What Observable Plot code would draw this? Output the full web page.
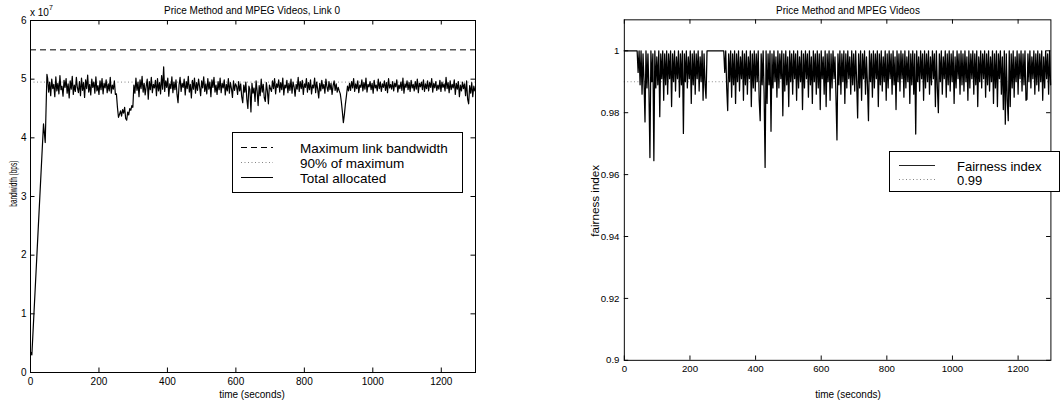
<!DOCTYPE html>
<html>
<head>
<meta charset="utf-8">
<script src="https://cdn.jsdelivr.net/npm/d3@7"></script>
<script src="https://cdn.jsdelivr.net/npm/@observablehq/plot@0.6"></script>
<style>
  html, body { margin: 0; padding: 0; background: #fff; }
  #wrap { position: relative; width: 1063px; height: 400px; overflow: hidden; background: #fff; }
  #wrap > div, #wrap > svg { position: absolute; top: 0; }
  #left { left: 0; }
  #right { left: 560px; }
  #overlay { left: 0; top: 0; pointer-events: none; }
</style>
</head>
<body>
<div id="wrap">
  <div id="left"></div>
  <div id="right"></div>
</div>
<script>
// ---------- data (bandwidth in units of 1e7 bps) ----------
const bwRampTime = [0, 4, 38, 43, 48];
const bwRampVal  = [0.35, 0.30, 4.24, 3.92, 5.08];
const bwStart = 50, bwStep = 3;   // sampling grid of the rest of the trace (seconds)
const bwVal = [
  // 50 - 248
  5.02, 4.78, 4.95, 4.72, 5.00, 4.84, 4.91, 4.70, 5.04, 4.80,
  4.93, 4.75, 5.06, 4.82, 4.88, 4.71, 4.98, 4.86, 5.01, 4.76,
  4.92, 4.68, 4.97, 4.83, 5.05, 4.74, 4.90, 4.79, 5.03, 4.85,
  4.77, 4.96, 4.72, 5.02, 4.81, 4.94, 4.69, 4.99, 4.84, 5.07,
  4.78, 4.91, 4.73, 5.00, 4.86, 4.95, 4.76, 5.04, 4.80, 4.89,
  4.74, 4.97, 4.82, 5.01, 4.75, 4.93, 4.85, 4.99, 4.77, 4.92,
  4.80, 5.03, 4.76, 4.90, 4.83, 4.97, 4.74,
  // 251 - 299 (dip)
  4.75, 4.52, 4.35, 4.40, 4.46, 4.37, 4.48, 4.42, 4.52, 4.33,
  4.30, 4.44, 4.39, 4.50, 4.47, 4.55, 4.52,
  // 302 - 599
  4.90, 4.76, 5.02, 4.81, 4.95, 4.70, 4.99, 4.84, 5.05, 4.78,
  4.93, 4.73, 4.88, 5.00, 4.66, 4.96, 4.82, 5.03, 4.77, 4.91,
  4.85, 4.98, 4.72, 5.01, 4.80, 4.94, 4.75, 5.06, 4.83, 5.21,
  4.79, 4.97, 4.86, 5.02, 4.71, 4.92, 4.84, 5.04, 4.77, 4.95,
  4.82, 4.99, 4.74, 4.60, 4.90, 5.03, 4.79, 4.93, 4.86, 5.00,
  4.73, 4.96, 4.84, 5.05, 4.78, 4.91, 4.68, 4.98, 4.83, 5.02,
  4.76, 4.94, 4.81, 5.00, 4.87, 4.72, 4.97, 4.85, 5.04, 4.79,
  4.92, 4.75, 5.01, 4.83, 4.95, 4.70, 4.99, 4.86, 5.03, 4.78,
  4.90, 4.74, 4.96, 4.82, 5.02, 4.77, 4.93, 4.85, 4.99, 4.73,
  4.91, 4.80, 5.01, 4.76, 4.94, 4.84, 4.69, 4.97, 4.81, 4.92,
  // 602 - 701
  4.88, 4.74, 4.96, 4.80, 4.92, 4.70, 4.60, 4.90, 4.78, 4.95,
  4.66, 4.50, 4.88, 4.82, 4.44, 4.93, 4.76, 4.85, 4.62, 4.97,
  4.80, 4.55, 4.89, 4.72, 5.00, 4.78, 4.91, 4.68, 4.62, 4.94,
  4.80, 4.58, 4.90, 4.84,
  // 704 - 902
  4.79, 4.97, 4.84, 5.01, 4.75, 4.92, 4.86, 4.99, 4.78, 4.94,
  4.82, 5.02, 4.73, 4.90, 4.85, 4.98, 4.77, 4.93, 4.81, 5.00,
  4.76, 4.95, 4.87, 4.71, 4.91, 4.83, 5.03, 4.79, 4.96, 4.84,
  4.98, 4.74, 4.92, 4.86, 5.01, 4.78, 4.94, 4.82, 4.99, 4.75,
  4.90, 4.85, 5.02, 4.77, 4.95, 4.83, 4.68, 4.93, 4.80, 4.98,
  4.84, 4.91, 4.76, 5.00, 4.87, 4.79, 4.96, 4.82, 4.93, 4.74,
  4.89, 4.97, 4.81, 4.92, 4.78, 4.86, 4.80,
  // 905 - 932 (dip)
  4.75, 4.62, 4.45, 4.26, 4.40, 4.58, 4.72, 4.88, 4.80, 4.93,
  // 935 - 1298
  4.81, 4.96, 4.85, 5.01, 4.79, 4.92, 4.84, 4.97, 4.77, 4.90,
  4.86, 4.99, 4.80, 4.94, 4.83, 5.02, 4.78, 4.91, 4.87, 4.96,
  4.82, 4.93, 4.76, 4.98, 4.85, 4.90, 4.80, 5.00, 4.84, 4.95,
  4.79, 4.92, 4.86, 4.97, 4.81, 4.94, 4.77, 5.01, 4.85, 4.91,
  4.83, 4.96, 4.80, 4.93, 4.87, 4.99, 4.78, 4.90, 4.84, 4.95,
  4.81, 5.02, 4.76, 4.92, 4.86, 4.97, 4.82, 4.94, 4.79, 4.98,
  4.85, 4.91, 4.80, 4.96, 4.83, 5.00, 4.77, 4.93, 4.87, 4.95,
  4.82, 4.99, 4.79, 4.92, 4.84, 4.97, 4.80, 4.94, 4.86, 5.01,
  4.78, 4.93, 4.85, 4.96, 4.81, 4.90, 4.83, 4.98, 4.79, 4.95,
  4.86, 4.92, 4.80, 5.03, 4.84, 4.94, 4.77, 4.97, 4.82, 4.91,
  4.85, 4.99, 4.74, 4.93, 4.83, 4.96, 4.70, 4.90, 4.80, 4.95,
  4.84, 4.92, 4.72, 4.97, 4.66, 4.58, 4.89, 4.76, 4.94, 4.70,
  4.88, 4.80
];
const maxBandwidth = 5.5;
const ninetyPercent = 4.95;

const fairStart = 0, fairStep = 3;
const fairVal = [
  // 0 - 39
  1, 1, 1, 1, 1, 1, 1, 1, 1, 1, 1, 1, 1, 1,
  // 42 - 249
  0.993, 1.000, 0.989, 1.000, 0.986, 0.999, 0.990, 0.977, 1.000, 0.988,
  0.999, 0.987, 0.9655, 1.000, 0.990, 0.999, 0.9645, 1.000, 0.988, 0.998,
  0.989, 1.000, 0.9787, 0.999, 0.991, 1.000, 0.984, 0.999, 0.989, 1.000,
  0.986, 0.999, 0.991, 1.000, 0.982, 0.999, 0.990, 1.000, 0.987, 0.998,
  0.991, 1.000, 0.985, 0.999, 0.989, 1.000, 0.9733, 0.999, 0.990, 1.000,
  0.988, 0.998, 0.991, 1.000, 0.983, 0.999, 0.989, 1.000, 0.986, 0.999,
  0.991, 1.000, 0.987, 0.998, 0.990, 1.000, 0.984, 0.999, 0.989, 0.9847,
  // 252 - 303
  1, 1, 1, 1, 1, 1, 1, 1, 1, 1, 1, 1, 1, 1, 1, 1, 1, 1,
  // 306 - 1299
  0.993, 1.000, 0.988, 0.9807, 0.999, 0.990, 1.000, 0.985, 0.999, 0.989,
  1.000, 0.983, 0.999, 0.990, 1.000, 0.987, 0.998, 0.991, 1.000, 0.984,
  0.999, 0.989, 1.000, 0.986, 0.998, 0.991, 1.000, 0.982, 0.999, 0.988,
  1.000, 0.987, 0.999, 0.990, 1.000, 0.984, 0.9774, 0.999, 0.989, 1.000,
  0.986, 0.9623, 1.000, 0.983, 0.999, 0.989, 1.000, 0.974, 0.999, 0.988,
  1.000, 0.990, 0.998, 0.985, 1.000, 0.988, 0.999, 0.991, 1.000, 0.979,
  0.999, 0.987, 1.000, 0.989, 0.998, 0.982, 1.000, 0.990, 0.999, 0.986,
  1.000, 0.991, 0.999, 0.984, 1.000, 0.988, 0.998, 0.990, 1.000, 0.981,
  0.999, 0.988, 1.000, 0.991, 0.999, 0.985, 1.000, 0.989, 0.998, 0.983,
  1.000, 0.990, 0.999, 0.986, 1.000, 0.988, 0.999, 0.981, 1.000, 0.991,
  0.998, 0.986, 1.000, 0.982, 0.999, 0.990, 1.000, 0.984, 0.999, 0.988,
  1.000, 0.991, 0.998, 0.985, 0.9712, 0.999, 0.989, 1.000, 0.986, 0.999,
  0.990, 1.000, 0.983, 0.999, 0.988, 1.000, 0.991, 0.998, 0.986, 1.000,
  0.989, 0.999, 0.987, 1.000, 0.990, 0.9783, 0.999, 0.988, 1.000, 0.984,
  0.999, 0.991, 1.000, 0.986, 0.998, 0.989, 0.9774, 1.000, 0.990, 0.999,
  0.985, 1.000, 0.988, 0.999, 0.991, 1.000, 0.982, 0.999, 0.989, 1.000,
  0.987, 0.998, 0.990, 1.000, 0.984, 0.999, 0.988, 1.000, 0.991, 0.999,
  0.986, 1.000, 0.989, 0.998, 0.981, 1.000, 0.990, 0.999, 0.987, 1.000,
  0.991, 0.999, 0.985, 1.000, 0.988, 0.998, 0.990, 1.000, 0.983, 0.999,
  0.989, 1.000, 0.986, 0.999, 0.9731, 1.000, 0.990, 0.998, 0.987, 1.000,
  0.991, 0.999, 0.984, 1.000, 0.988, 0.999, 0.990, 1.000, 0.986, 0.998,
  0.989, 1.000, 0.991, 0.999, 0.982, 1.000, 0.988, 0.980, 0.999, 0.990,
  1.000, 0.986, 0.998, 0.991, 1.000, 0.985, 0.999, 0.989, 1.000, 0.987,
  0.999, 0.990, 1.000, 0.983, 0.998, 0.988, 1.000, 0.991, 0.999, 0.986,
  1.000, 0.989, 0.999, 0.987, 1.000, 0.990, 0.998, 0.984, 1.000, 0.988,
  0.999, 0.991, 1.000, 0.986, 0.999, 0.989, 1.000, 0.982, 0.998, 0.990,
  1.000, 0.988, 0.999, 0.991, 1.000, 0.985, 0.999, 0.989, 1.000, 0.987,
  0.998, 0.990, 1.000, 0.983, 0.999, 0.988, 1.000, 0.982, 0.999, 0.991,
  1.000, 0.986, 0.998, 0.981, 1.000, 0.9763, 0.999, 0.984, 0.9774, 1.000,
  0.982, 0.999, 0.988, 1.000, 0.985, 0.998, 0.990, 1.000, 0.986, 0.999,
  0.991, 1.000, 0.987, 0.999, 0.989, 1.000, 0.984, 0.9843, 0.999, 0.990,
  1.000, 0.988, 0.998, 0.991, 1.000, 0.986, 0.999, 0.989, 1.000, 0.987,
  0.999, 0.990, 1.000, 0.984, 0.998, 0.988, 1.000, 0.991, 0.999, 0.986,
  1.000, 0.989
];
const fairRef = 0.99;

const xTicks = [0, 200, 400, 600, 800, 1000, 1200];
const bwTicks = [0, 1, 2, 3, 4, 5, 6];
const fairTicks = [0.9, 0.92, 0.94, 0.96, 0.98, 1];

const leftTitle = "Price Method and MPEG Videos, Link 0";
const rightTitle = "Price Method and MPEG Videos";
const xLabel = "time (seconds)";
const bwLabel = "bandwidth (bps)";
const fairLabel = "fairness index";
const bwLegend = ["Maximum link bandwidth", "90% of maximum", "Total allocated"];
const fairLegend = ["Fairness index", "0.99"];

// ---------- tables ----------
const bwData = bwRampTime.map((t, i) => ({t, v: bwRampVal[i]}))
  .concat(bwVal.map((v, i) => ({t: bwStart + i * bwStep, v})));
const fairData = fairVal.map((v, i) => ({t: fairStart + i * fairStep, v}));

const FONT = "'Liberation Sans', Arial, Helvetica, sans-serif";
const baseStyle = {fontFamily: FONT, fontSize: "10px", color: "black", background: "transparent", overflow: "visible"};
const intFmt = d => String(d);
const TICK = 4.5;

// MATLAB-style inward ticks on all four sides
function boxTicks(xt, yt, fw, fh) {
  return [
    Plot.tickX(xt, {x: d => d, stroke: "black", insetTop: fh - TICK}),
    Plot.tickX(xt, {x: d => d, stroke: "black", insetBottom: fh - TICK}),
    Plot.tickY(yt, {y: d => d, stroke: "black", insetRight: fw - TICK}),
    Plot.tickY(yt, {y: d => d, stroke: "black", insetLeft: fw - TICK})
  ];
}

const L = {width: 520, height: 400, ml: 30, mr: 45, mt: 20, mb: 28};
const left = Plot.plot({
  width: L.width, height: L.height,
  marginLeft: L.ml, marginRight: L.mr, marginTop: L.mt, marginBottom: L.mb,
  style: baseStyle,
  x: {domain: [0, 1300]},
  y: {domain: [0, 6]},
  marks: [
    Plot.ruleY([maxBandwidth], {stroke: "black", strokeWidth: 1, strokeDasharray: "6,4"}),
    Plot.ruleY([ninetyPercent], {stroke: "#777", strokeWidth: 0.9, strokeDasharray: "1,2.5"}),
    Plot.line(bwData, {x: "t", y: "v", stroke: "black", strokeWidth: 1.2}),
    Plot.frame({stroke: "black", strokeWidth: 1}),
    ...boxTicks(xTicks, bwTicks, L.width - L.ml - L.mr, L.height - L.mt - L.mb),
    Plot.axisX({ticks: xTicks, tickSize: 0, tickPadding: 5, tickFormat: intFmt, label: null}),
    Plot.axisY({ticks: bwTicks, tickSize: 0, tickPadding: 4, tickFormat: intFmt, label: null})
  ]
});
document.getElementById("left").appendChild(left);

const R = {width: 520, height: 400, ml: 66, mr: 13, mt: 20, mb: 28};
const right = Plot.plot({
  width: R.width, height: R.height,
  marginLeft: R.ml, marginRight: R.mr, marginTop: R.mt, marginBottom: R.mb,
  style: baseStyle,
  x: {domain: [0, 1300]},
  y: {domain: [0.9, 1.01]},
  marks: [
    Plot.ruleY([fairRef], {stroke: "#777", strokeWidth: 0.9, strokeDasharray: "1,2.5"}),
    Plot.line(fairData, {x: "t", y: "v", stroke: "black", strokeWidth: 1.3}),
    Plot.frame({stroke: "black", strokeWidth: 1}),
    ...boxTicks(xTicks, fairTicks, R.width - R.ml - R.mr, R.height - R.mt - R.mb),
    Plot.axisX({ticks: xTicks, tickSize: 0, tickPadding: 5, tickFormat: intFmt, label: null}),
    Plot.axisY({ticks: fairTicks, tickSize: 0, tickPadding: 5, tickFormat: d => String(+d.toFixed(2)), label: null})
  ]
});
document.getElementById("right").appendChild(right);

// ---------- titles, labels, legends ----------
const ov = d3.select("#wrap").append("svg").attr("id", "overlay")
  .attr("width", 1063).attr("height", 400)
  .style("font-family", FONT).style("fill", "black");

function txt(x, y, s, size, anchor = "middle") {
  return ov.append("text").attr("x", x).attr("y", y).attr("font-size", size)
    .attr("text-anchor", anchor).text(s);
}
txt(252, 13.5, leftTitle, 10);
txt(848, 13.5, rightTitle, 10);
txt(252, 397.5, xLabel, 10);
txt(848, 397.5, xLabel, 10);
// x 10^7 exponent
const ex = ov.append("text").attr("x", 30).attr("y", 16).attr("font-size", 10);
ex.append("tspan").text("x 10");
ex.append("tspan").attr("font-size", 7).attr("dy", -6).text("7");
// y labels
ov.append("text").attr("transform", "translate(17,183.7) rotate(-90)")
  .attr("text-anchor", "middle").attr("font-size", 10)
  .attr("textLength", 46).attr("lengthAdjust", "spacingAndGlyphs").text(bwLabel);
ov.append("text").attr("transform", "translate(598.5,200.8) rotate(-90)")
  .attr("text-anchor", "middle").attr("font-size", 10.5)
  .attr("textLength", 72).attr("lengthAdjust", "spacingAndGlyphs").text(fairLabel);

// left legend
ov.append("rect").attr("x", 232.5).attr("y", 132.5).attr("width", 230).attr("height", 60)
  .attr("fill", "white").attr("stroke", "black").attr("stroke-width", 1);
const lsY = [147.5, 162.5, 177.5];
const lsDash = ["6,4", "1,2.5", null];
const lsCol = ["black", "#777", "black"];
lsY.forEach((y, i) => {
  const l = ov.append("line").attr("x1", 241).attr("x2", 273).attr("y1", y).attr("y2", y)
    .attr("stroke", lsCol[i]).attr("stroke-width", i === 1 ? 0.9 : 1);
  if (lsDash[i]) l.attr("stroke-dasharray", lsDash[i]);
  txt(300, y + 5, bwLegend[i], 13.5, "start");
});

// right legend
ov.append("rect").attr("x", 889.5).attr("y", 151.5).attr("width", 170).attr("height", 40)
  .attr("fill", "white").attr("stroke", "black").attr("stroke-width", 1);
const rsY = [165.5, 179.5];
rsY.forEach((y, i) => {
  const l = ov.append("line").attr("x1", 899).attr("x2", 935).attr("y1", y).attr("y2", y)
    .attr("stroke", i === 0 ? "#222" : "#777").attr("stroke-width", i === 0 ? 1.2 : 0.9);
  if (i === 1) l.attr("stroke-dasharray", "1,2.5");
  txt(957, y + 5, fairLegend[i], 13, "start");
});
</script>
</body>
</html>
